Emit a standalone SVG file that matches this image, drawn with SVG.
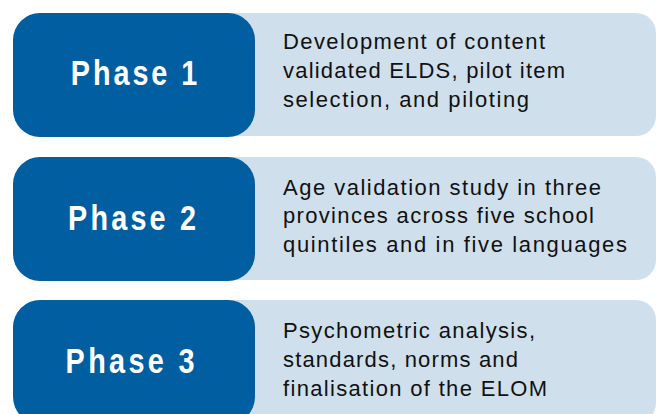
<svg xmlns="http://www.w3.org/2000/svg" width="656" height="414" viewBox="0 0 656 414">
<style>
.bg{fill:#cfe0ec}
.ph{fill:#015ea1}
.pt{font-family:"Liberation Sans",Arial,sans-serif;font-weight:bold;font-size:36px;fill:#ffffff;text-anchor:middle}
.dt{font-family:"Liberation Sans",Arial,sans-serif;font-size:22px;fill:#111111}
</style>
<rect width="656" height="414" fill="#ffffff"/>
<g id="phase1">
<rect class="bg" x="200" y="13" width="456" height="123" rx="20"/>
<rect class="ph" x="13" y="13" width="242" height="124" rx="27"/>
<text class="pt" transform="translate(134 85) scale(0.8 1)" x="0" y="0" textLength="158" lengthAdjust="spacing">Phase 1</text>
<text class="dt" x="283" y="49" textLength="262" lengthAdjust="spacing">Development of content</text>
<text class="dt" x="283" y="78" textLength="282" lengthAdjust="spacing">validated ELDS, pilot item</text>
<text class="dt" x="283" y="107" textLength="246" lengthAdjust="spacing">selection, and piloting</text>
</g>
<g id="phase2">
<rect class="bg" x="200" y="157" width="456" height="123" rx="20"/>
<rect class="ph" x="13" y="157" width="242" height="124" rx="27"/>
<text class="pt" transform="translate(132 230) scale(0.8 1)" x="0" y="0" textLength="160" lengthAdjust="spacing">Phase 2</text>
<text class="dt" x="283" y="195" textLength="318" lengthAdjust="spacing">Age validation study in three</text>
<text class="dt" x="283" y="223" textLength="311" lengthAdjust="spacing">provinces across five school</text>
<text class="dt" x="283" y="252" textLength="344" lengthAdjust="spacing">quintiles and in five languages</text>
</g>
<g id="phase3">
<rect class="bg" x="200" y="300" width="456" height="123" rx="20"/>
<rect class="ph" x="13" y="300" width="242" height="124" rx="27"/>
<text class="pt" transform="translate(130 373) scale(0.8 1)" x="0" y="0" textLength="161" lengthAdjust="spacing">Phase 3</text>
<text class="dt" x="283" y="338" textLength="252" lengthAdjust="spacing">Psychometric analysis,</text>
<text class="dt" x="283" y="367" textLength="235" lengthAdjust="spacing">standards, norms and</text>
<text class="dt" x="283" y="396" textLength="264" lengthAdjust="spacing">finalisation of the ELOM</text>
</g>
<g id="connectors"></g>
</svg>
